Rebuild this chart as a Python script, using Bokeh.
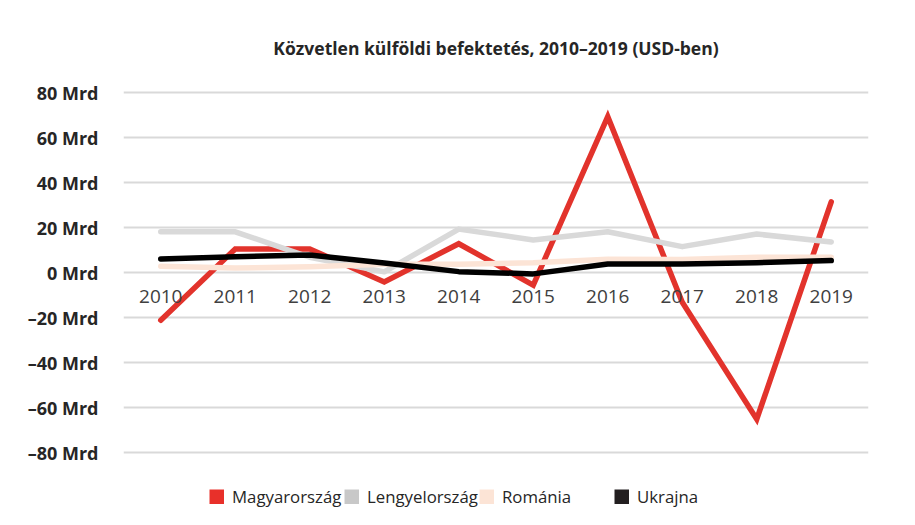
from bokeh.plotting import figure
from bokeh.models import (FactorRange, Range1d, FixedTicker, Legend, LegendItem,
                          ColumnDataSource)
from bokeh.embed import file_html
from bokeh.resources import INLINE

years = ["2010", "2011", "2012", "2013", "2014", "2015", "2016", "2017", "2018", "2019"]
hungary = [-21, 10.7, 10.7, -4, 13, -5.4, 69.5, -13, -65, 31.6]
poland = [18.3, 18.3, 7, 0.5, 19.5, 14.7, 18.3, 11.7, 17.3, 13.8]
romania = [3, 2.2, 2.8, 3.9, 3.9, 4.5, 6.1, 6.0, 7, 7]
ukraine = [6.2, 7.2, 8, 4.4, 0.6, -0.4, 4, 4, 4.6, 5.5]

y_ticks = [-80, -60, -40, -20, 0, 20, 40, 60, 80]
y_tick_labels = ["\u201380 Mrd", "\u201360 Mrd", "\u201340 Mrd", "\u201320 Mrd", "0 Mrd",
                 "20 Mrd", "40 Mrd", "60 Mrd", "80 Mrd"]

series_names = ["Magyarország", "Lengyelország", "Románia", "Ukrajna"]
line_colors = ["#E2332C", "#D9D9D9", "#FCE4D6", "#000000"]
legend_colors = ["#E8302A", "#C8C8C8", "#FCE4D6", "#231F20"]

FONT = "Open Sans"

# frame extends below the -80 gridline so that the legend sits inside it
p = figure(width=915, height=525, output_backend="svg", toolbar_location=None,
           x_range=FactorRange(factors=years, range_padding=0),
           y_range=Range1d(-107.8, 82),
           min_border_left=123, min_border_right=47, min_border_top=88,
           min_border_bottom=10)

p.title.text = "Közvetlen külföldi befektetés, 2010–2019 (USD-ben)"
p.title.align = "center"
p.title.text_font = FONT
p.title.text_font_size = "17.5px"
p.title.text_font_style = "bold"
p.title.text_color = "#262626"
p.title.standoff = 58

p.outline_line_color = None
p.background_fill_color = "white"
p.border_fill_color = "white"

# axes
p.yaxis.ticker = FixedTicker(ticks=y_ticks)
p.yaxis.major_label_overrides = dict(zip(y_ticks, y_tick_labels))
p.yaxis.axis_line_color = None
p.yaxis.major_tick_line_color = None
p.yaxis.minor_tick_line_color = None
p.yaxis.major_label_standoff = 19
p.yaxis.major_label_text_font = FONT
p.yaxis.major_label_text_font_size = "18px"
p.yaxis.major_label_text_font_style = "bold"
p.yaxis.major_label_text_color = "#262626"

p.xaxis.fixed_location = 0
p.xaxis.axis_line_color = None
p.xaxis.major_tick_line_color = None
p.xaxis.minor_tick_line_color = None
p.xaxis.major_label_standoff = 11
p.xaxis.major_label_text_font = FONT
p.xaxis.major_label_text_font_size = "19px"
p.xaxis.major_label_text_color = "#404040"

p.xgrid.grid_line_color = None
p.ygrid.ticker = FixedTicker(ticks=y_ticks)
p.ygrid.grid_line_color = "#D9D9D9"
p.ygrid.grid_line_width = 2

src = ColumnDataSource(dict(x=years, hu=hungary, pl=poland, ro=romania, ua=ukraine))
cols = ["hu", "pl", "ro", "ua"]
for col, c in zip(cols, line_colors):
    p.line("x", col, source=src, line_color=c, line_width=5.5,
           line_join="miter" if col == "hu" else "round", line_cap="round")

# legend swatches: thick line glyphs (one undefined point, nothing drawn in the plot)
items = []
for name, c in zip(series_names, legend_colors):
    r = p.line(x=[years[0]], y=[float("nan")], line_color=c, line_width=15,
               line_cap="butt")
    items.append(LegendItem(label=name, renderers=[r]))

legend = Legend(items=items, orientation="horizontal", location=(86, 7),
                border_line_color=None, background_fill_alpha=0,
                label_text_font=FONT, label_text_font_size="16.8px",
                label_text_color="#262626", glyph_width=15, glyph_height=15,
                label_standoff=8, label_width=112, spacing=0, padding=0, margin=0)
p.add_layout(legend, "center")

open("out.html", "w").write(file_html(p, INLINE))
